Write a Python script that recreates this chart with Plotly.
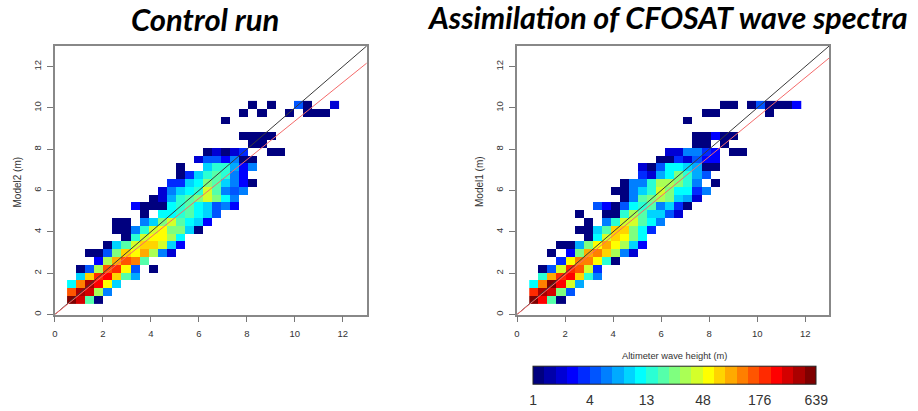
import plotly.graph_objects as go

_ = None
# colour level (0-24) of each 2-D histogram bin; each list is one row of bins, from the bottom up
control_levels = [
    [24,22,11,0],
    [19,23,22,13,6],
    [9,18,23,21,15,8],
    [_,8,16,20,21,16,11,7],
    [_,0,5,13,19,20,15,5,_,0],
    [_,_,_,3,13,17,19,18,11],
    [_,_,0,0,5,12,16,15,17,13,6,2],
    [_,_,_,_,0,8,11,14,16,16,14,8,3],
    [_,_,_,_,_,_,0,10,14,15,15,13,9],
    [_,_,_,_,_,0,0,6,10,14,15,12,12,8,0],
    [_,_,_,_,_,0,0,_,6,8,12,14,11,9,8,3],
    [_,_,_,_,_,_,_,_,0,_,9,9,10,11,9,8,5],
    [_,_,_,_,_,_,_,3,0,0,0,9,10,11,9,8,5,6,3],
    [_,_,_,_,_,_,_,_,_,0,2,7,10,11,12,14,12,9,6],
    [_,_,_,_,_,_,_,_,_,_,2,6,8,9,10,14,11,6,5,6],
    [_,_,_,_,_,_,_,_,_,_,_,4,4,8,9,12,11,8,6,3,0],
    [_,_,_,_,_,_,_,_,_,_,_,_,0,4,8,10,11,10,6,3],
    [_,_,_,_,_,_,_,_,_,_,_,_,0,_,_,8,10,10,7,3,6],
    [_,_,_,_,_,_,_,_,_,_,_,_,_,_,2,5,5,3,6,0,0],
    [_,_,_,_,_,_,_,_,_,_,_,_,_,_,_,0,2,0,2,4,_,_,0,0],
    [_,_,_,_,_,_,_,_,_,_,_,_,_,_,_,_,_,_,_,_,0,0],
    [_,_,_,_,_,_,_,_,_,_,_,_,_,_,_,_,_,_,_,0,0,0,0],
    [_],
    [_,_,_,_,_,_,_,_,_,_,_,_,_,_,_,_,_,0],
    [_,_,_,_,_,_,_,_,_,_,_,_,_,_,_,_,_,_,_,0,_,0,_,_,0,_,0,0,0],
    [_,_,_,_,_,_,_,_,_,_,_,_,_,_,_,_,_,_,_,_,0,_,0,_,_,5,0,_,_,2],
]
assim_levels = [
    [24,21,11,0],
    [20,23,22,12,5],
    [9,18,24,21,14,7],
    [_,10,17,20,21,16,10,6],
    [_,0,5,14,20,19,14,4],
    [_,_,_,4,15,18,18,15,10,0],
    [_,_,0,_,3,12,17,18,16,13,6,2],
    [_,_,_,0,0,7,12,15,17,15,13,8,3],
    [_,_,_,_,_,_,0,9,14,16,15,12,9],
    [_,_,_,_,_,0,0,8,11,16,16,12,9,4],
    [_,_,_,_,_,_,0,_,6,10,14,14,11,9,6],
    [_,_,_,_,_,0,_,_,0,0,10,13,11,8,8,5,2],
    [_,_,_,_,_,_,_,5,3,0,5,9,10,11,6,8,4,0],
    [_,_,_,_,_,_,_,_,_,_,0,6,11,12,13,12,8,7,2],
    [_,_,_,_,_,_,_,_,_,0,0,6,8,10,14,12,9,9,4,6],
    [_,_,_,_,_,_,_,_,_,_,0,6,6,10,13,13,12,10,6,_,0],
    [_,_,_,_,_,_,_,_,_,_,_,_,4,2,7,9,12,10,7,5],
    [_,_,_,_,_,_,_,_,_,_,_,_,2,0,5,9,9,8,7,0,0],
    [_,_,_,_,_,_,_,_,_,_,_,_,_,_,0,0,4,2,5,3,3],
    [_,_,_,_,_,_,_,_,_,_,_,_,_,_,_,2,2,6,6,4,3,_,0,0],
    [_,_,_,_,_,_,_,_,_,_,_,_,_,_,_,_,_,_,0,0,_,0],
    [_,_,_,_,_,_,_,_,_,_,_,_,_,_,_,_,_,_,0,0,3,0,0],
    [_],
    [_,_,_,_,_,_,_,_,_,_,_,_,_,_,_,_,_,0],
    [_,_,_,_,_,_,_,_,_,_,_,_,_,_,_,_,_,_,_,0,0,_,_,_,_,_,0],
    [_,_,_,_,_,_,_,_,_,_,_,_,_,_,_,_,_,_,_,_,_,0,0,_,0,5,0,0,0,3],
]
jet_colors = ["#00007f","#0000aa","#0000d4","#0000ff","#002aff","#0055ff","#007fff","#00aaff",
              "#00d4ff","#00ffff","#2affd4","#55ffaa","#7fff7f","#aaff55","#d4ff2a","#ffff00",
              "#ffd400","#ffaa00","#ff7f00","#ff5500","#ff2a00","#ff0000","#d40000","#aa0000","#7f0000"]
count_ticks = ["1","4","13","48","176","639"]
axis_ticks = [0,2,4,6,8,10,12]
one_to_one = [0,13]
fit_control = [0,12.17]
fit_assim = [0,12.42]

W,H = 918,411
NC = 30
def grid(rows):
    return [[(v+0.5 if v is not None else None) for v in (r+[None]*(NC-len(r)))] for r in rows]

n = len(jet_colors)
scale = []
for i,c in enumerate(jet_colors):
    scale += [[i/n,c],[(i+1)/n,c]]

fig = go.Figure()
for rows,xa,ya,fit in [(control_levels,"x","y",fit_control),(assim_levels,"x2","y2",fit_assim)]:
    fig.add_trace(go.Heatmap(z=grid(rows),x0=0.699,dx=0.378,y0=0.699,dy=0.378,xaxis=xa,yaxis=ya,
                             coloraxis="coloraxis",hoverongaps=False))
    fig.add_trace(go.Scatter(x=one_to_one,y=one_to_one,mode="lines",xaxis=xa,yaxis=ya,showlegend=False,
                             line=dict(color="#3a3a3a",width=1)))
    fig.add_trace(go.Scatter(x=one_to_one,y=fit,mode="lines",xaxis=xa,yaxis=ya,showlegend=False,
                             line=dict(color="#f46a6a",width=1)))

def xax(l,r,anchor):
    return dict(domain=[l/W,r/W],range=[0,13],anchor=anchor,tickvals=axis_ticks,ticks="outside",ticklen=6,
                tickwidth=1,tickcolor="#777",linecolor="#888",linewidth=1.5,mirror=True,showgrid=False,zeroline=False,
                ticklabelstandoff=3,
                tickfont=dict(family="Liberation Sans",size=9.5,color="#333"))
def yax(anchor):
    return dict(domain=[(H-315.3)/H,(H-46)/H],range=[0,13],anchor=anchor,tickvals=axis_ticks,ticks="outside",ticklen=6,
                tickwidth=1,tickcolor="#777",linecolor="#888",linewidth=1.5,mirror=True,showgrid=False,zeroline=False,
                ticklabelstandoff=2,
                tickangle=-90,tickfont=dict(family="Liberation Sans",size=9.5,color="#333"))

def note(text,x,y,size,family="Liberation Sans",color="#333",angle=0,bold=False):
    return dict(text=f"<b><i>{text}</i></b>" if bold else text,x=x/W,y=1-y/H,xref="paper",yref="paper",showarrow=False,
                xanchor="center",yanchor="middle",textangle=angle,font=dict(family=family,size=size,color=color))

fig.update_layout(
    width=W,height=H,margin=dict(l=0,r=0,t=0,b=0),paper_bgcolor="white",plot_bgcolor="white",showlegend=False,
    xaxis=xax(52,365,"y"),yaxis=yax("x"),xaxis2=xax(515.7,829,"y2"),yaxis2=yax("x2"),
    coloraxis=dict(colorscale=scale,cmin=0,cmax=n,colorbar=dict(
        orientation="h",x=532/W,xanchor="left",y=(H-410)/H,yanchor="bottom",len=283,lenmode="pixels",
        thickness=18,thicknessmode="pixels",xpad=0,ypad=0,outlinecolor="#222",outlinewidth=1,
        tickvals=[0,5,10,15,20,25],ticktext=count_ticks,ticks="outside",ticklen=4,tickcolor="rgba(0,0,0,0)",
        tickfont=dict(family="Liberation Sans",size=14,color="#333"))),
    annotations=[
        note("Control run",203,19,31,"Lato","#000",bold=True),
        note("Assimilation of CFOSAT wave spectra",667,17,30.5,"Lato","#000",bold=True),
        note("Model2 (m)",15,182,10,angle=-90),
        note("Model1 (m)",478,182,10,angle=-90),
        note("Altimeter wave height (m)",674,357,9.3),
    ])
fig.write_html("out.html",config=dict(displayModeBar=False),
               post_script="document.body.style.margin='0';document.body.style.padding='0';")
